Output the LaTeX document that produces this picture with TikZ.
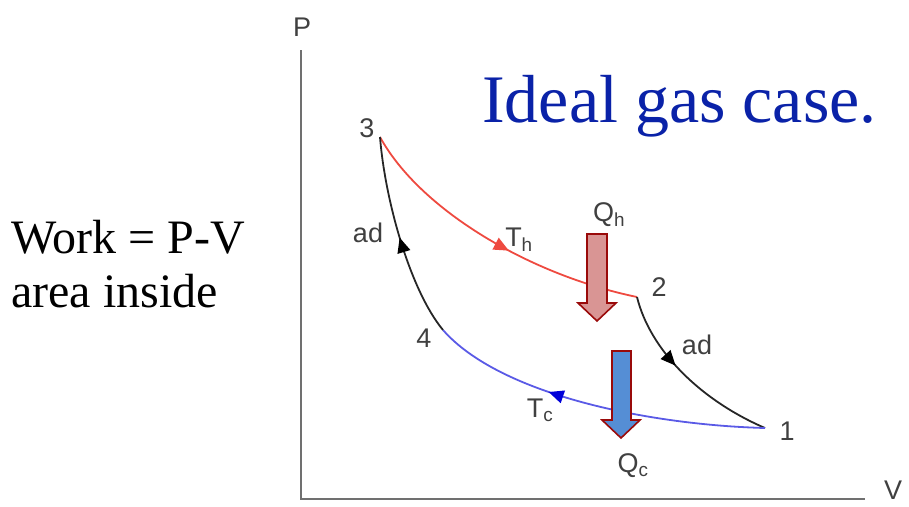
\documentclass[tikz,border=0pt]{standalone}
\usepackage{fontspec}
\setmainfont{Liberation Serif}
\newfontfamily\lblfont{Liberation Sans}
\usetikzlibrary{arrows.meta,decorations.markings}
\definecolor{axisgray}{HTML}{707070}
\definecolor{lblgray}{HTML}{404040}
\definecolor{hotred}{HTML}{EE4A40}
\definecolor{coldblue}{HTML}{5A5AE6}
\definecolor{titleblue}{HTML}{0A22A8}
\definecolor{qhfill}{HTML}{D99594}
\definecolor{qcfill}{HTML}{558ED5}
\definecolor{qborder}{HTML}{9A0A0A}
\tikzset{
  axisline/.style={draw=axisgray,line width=2.4pt},
  lbl/.style={font=\lblfont\fontsize{27}{30}\selectfont,text=lblgray,inner sep=0pt},
  midarrow/.style 2 args={postaction={decorate},decoration={markings,
     mark=at position #1 with {\arrow[#2]{Triangle[length=15pt,width=13pt]}}}},
  blockarrow/.style={draw=qborder,line width=1.6pt,line join=miter},
}
\begin{document}
\begin{tikzpicture}[x=1pt,y=-1pt]
\useasboundingbox (0,0) rectangle (909,506);
% axes
\coordinate (origin) at (301,499);
\coordinate (ptop) at (301,50);
\coordinate (vend) at (865,499);
\draw[axisline] (ptop) -- (origin) -- (vend);
\node[lbl] (plabel) at (302,27) {P};
\node[lbl] (vlabel) at (893,490) {V};
% state points
\coordinate (p3) at (380,137);
\coordinate (p2) at (637,297);
\coordinate (p1) at (765,428);
\coordinate (p4) at (443,330);
% cycle
\draw[hotred,line width=1.8pt,midarrow={0.56}{hotred}] (p3) .. controls (420,210) and (530,275) .. (p2);
\draw[black!85,line width=1.8pt,midarrow={0.42}{black}] (p2) .. controls (650,350) and (700,400) .. (p1);
\draw[coldblue,line width=1.8pt,midarrow={0.64}{blue!85!black}] (p1) .. controls (650,425) and (500,395) .. (p4);
\draw[black!85,line width=1.8pt,midarrow={0.5}{black}] (p4) .. controls (410,290) and (385,200) .. (p3);
% point labels
\node[lbl] (l3) at (367,128) {3};
\node[lbl] (l2) at (659,287) {2};
\node[lbl] (l1) at (787,431) {1};
\node[lbl] (l4) at (424,338) {4};
\node[lbl] (adl) at (368,233) {ad};
\node[lbl] (adr) at (697,345) {ad};
\node[lbl] (th) at (519,240) {T\textsubscript{h}};
\node[lbl] (tc) at (540,410) {T\textsubscript{c}};
\node[lbl] (qh) at (609,215) {Q\textsubscript{h}};
\node[lbl] (qc) at (633,466) {Q\textsubscript{c}};
% heat block arrows
\filldraw[blockarrow,fill=qhfill] (587,234) -- (607,234) -- (607,303) -- (616,303) -- (597,321) -- (578,303) -- (587,303) -- cycle;
\filldraw[blockarrow,fill=qcfill] (612,351) -- (631,351) -- (631,420) -- (640,420) -- (621,438) -- (602,420) -- (612,420) -- cycle;
% texts
\node[anchor=base west,inner sep=0pt,text=titleblue,font=\fontsize{68}{74}\selectfont] (title) at (482,122) {Ideal gas case.};
\node[anchor=base west,inner sep=0pt,font=\fontsize{48}{54}\selectfont] (work) at (11,253) {Work = P-V};
\node[anchor=base west,inner sep=0pt,font=\fontsize{48}{54}\selectfont] (area) at (11,307) {area inside};
\end{tikzpicture}
\end{document}
